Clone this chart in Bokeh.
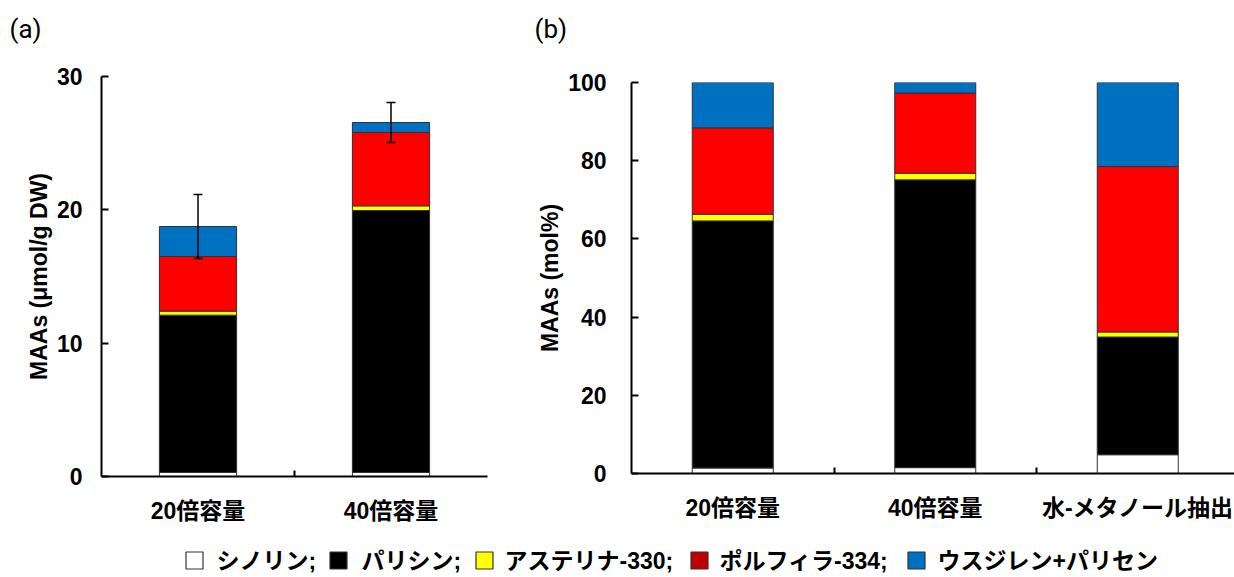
from bokeh.plotting import figure
from bokeh.layouts import column, row
from bokeh.models import ColumnDataSource, Range1d, FixedTicker, Whisker, TeeHead
from bokeh.core.properties import value
from bokeh.embed import file_html
from bokeh.resources import INLINE

# ---------------- data ----------------
cats_a = ["20倍容量", "40倍容量"]
cats_b = ["20倍容量", "40倍容量", "水-メタノール抽出"]
series = ["シノリン", "パリシン", "アステリナ-330", "ポルフィラ-334", "ウスジレン+パリセン"]
panel_letters = ["(a)", "(b)"]

# panel (a): µmol/g DW
a_shinorin = [0.3, 0.3]
a_palythine = [11.8, 19.65]
a_asterina = [0.3, 0.35]
a_porphyra = [4.1, 5.5]
a_usujirene = [2.25, 0.75]
a_err = [2.4, 1.5]

# panel (b): mol%
b_shinorin = [1.4, 1.5, 4.8]
b_palythine = [63.2, 73.6, 30.1]
b_asterina = [1.7, 1.7, 1.3]
b_porphyra = [22.1, 20.5, 42.3]
b_usujirene = [11.6, 2.7, 21.5]

a_yticks = [0, 10, 20, 30]
b_yticks = [0, 20, 40, 60, 80, 100]

# ---------------- styles ----------------
bar_colors = ["#FFFFFF", "#000000", "#FFFF00", "#FF0000", "#0070C0"]
legend_colors = ["#FFFFFF", "#000000", "#FFFF00", "#C00000", "#0070C0"]
LATIN = "Liberation Sans"
CJK = "Liberation Sans, Noto Sans CJK JP"
HEADER_H = 50


def make_panel(cats, stacks, err, ymax, yticks, ylabel, width, height,
               left, right, top, frame_h, unit_px, tick_standoff):
    n = len(cats)
    frame_w = width - left - right
    xs = [i + 0.5 for i in range(n)]
    data = {"x": xs}
    for name, vals in zip(series, stacks):
        data[name] = vals
    src = ColumnDataSource(data)
    p = figure(width=width, height=height, output_backend="svg", toolbar_location=None,
               x_range=Range1d(0, frame_w / unit_px), y_range=Range1d(0, ymax),
               min_border_left=left, min_border_right=right, min_border_top=top,
               min_border_bottom=height - top - frame_h)
    p.vbar_stack(series, x="x", width=0.4, source=src, fill_color=bar_colors,
                 line_color="#303030", line_width=1)
    if err is not None:
        tot = [sum(v) for v in zip(*stacks)]
        esrc = ColumnDataSource({"x": xs,
                                 "lo": [t - e for t, e in zip(tot, err)],
                                 "hi": [t + e for t, e in zip(tot, err)]})
        w = Whisker(base="x", lower="lo", upper="hi", source=esrc, dimension="height",
                    line_color="black", line_width=1.5, level="overlay",
                    upper_head=TeeHead(size=9, line_color="black", line_width=1.5),
                    lower_head=TeeHead(size=9, line_color="black", line_width=1.5))
        p.add_layout(w)
    p.xgrid.visible = False
    p.ygrid.visible = False
    p.outline_line_color = None
    # x axis
    xa = p.xaxis[0]
    xa.ticker = FixedTicker(ticks=xs, minor_ticks=[i + 1.0 for i in range(n - 1)])
    xa.major_label_overrides = {x: c for x, c in zip(xs, cats)}
    xa.major_tick_in = 0
    xa.major_tick_out = 0
    xa.minor_tick_in = 6
    xa.minor_tick_out = 0
    xa.minor_tick_line_color = "black"
    xa.minor_tick_line_width = 2
    xa.axis_line_color = "black"
    xa.axis_line_width = 2
    xa.major_label_text_font = CJK
    xa.major_label_text_font_style = "bold"
    xa.major_label_text_font_size = "23px"
    xa.major_label_text_color = "black"
    xa.major_label_standoff = 21
    # y axis
    ya = p.yaxis[0]
    ya.ticker = FixedTicker(ticks=yticks)
    ya.major_tick_in = 7
    ya.major_tick_out = 0
    ya.major_tick_line_width = 2
    ya.major_tick_line_color = "black"
    ya.minor_tick_line_color = None
    ya.axis_line_color = "black"
    ya.axis_line_width = 2
    ya.major_label_text_font = LATIN
    ya.major_label_text_font_style = "bold"
    ya.major_label_text_font_size = "23px"
    ya.major_label_text_color = "black"
    ya.major_label_standoff = tick_standoff
    ya.axis_label = ylabel
    ya.axis_label_text_font = LATIN
    ya.axis_label_text_font_style = "bold"
    ya.axis_label_text_font_size = "23px"
    ya.axis_label_text_color = "black"
    ya.axis_label_standoff = 2
    return p


pa = make_panel(cats_a, [a_shinorin, a_palythine, a_asterina, a_porphyra, a_usujirene],
                a_err, 30, a_yticks, "MAAs (μmol/g DW)", 520, 530 - HEADER_H,
                101, 33, 76 - HEADER_H, 400, 193, 19)
pb = make_panel(cats_b, [b_shinorin, b_palythine, b_asterina, b_porphyra, b_usujirene],
                None, 100, b_yticks, "MAAs (mol%)", 714, 530 - HEADER_H,
                111, 0, 82 - HEADER_H, 391, 202.5, 25)


def strip(height):
    s = figure(width=1234, height=height, output_backend="svg", toolbar_location=None,
               x_range=Range1d(0, 1234), y_range=Range1d(0, height),
               min_border=0, min_border_left=0, min_border_right=0,
               min_border_top=0, min_border_bottom=0)
    s.axis.visible = False
    s.grid.visible = False
    s.outline_line_color = None
    return s


# ---------------- header strip with the panel letters ----------------
ph = strip(HEADER_H)
ph.text(x=[9, 534], y=[HEADER_H - 28] * 2, text=panel_letters, text_font=value("Roboto"),
        text_font_size="26px", text_color="black",
        text_baseline="middle", text_align="left")

# ---------------- legend strip ----------------
pl = strip(46)
sq_x = [194, 338, 484, 699, 916]
tx_x = [216, 361, 504, 719, 937]
leg_labels = [s + ";" for s in series[:-1]] + [series[-1]]
pl.scatter(x=sq_x, y=[16] * 5, marker="square", size=17,
           fill_color=legend_colors, line_color="#333333", line_width=1.2)
pl.text(x=tx_x, y=[16] * 5, text=leg_labels, text_font=value(CJK),
        text_font_style="bold", text_font_size="23px", text_color="black",
        text_baseline="middle", text_align="left")

layout = column(ph, row(column(pa), column(pb), spacing=0), pl, spacing=0)
open("out.html", "w").write(file_html(layout, INLINE))
